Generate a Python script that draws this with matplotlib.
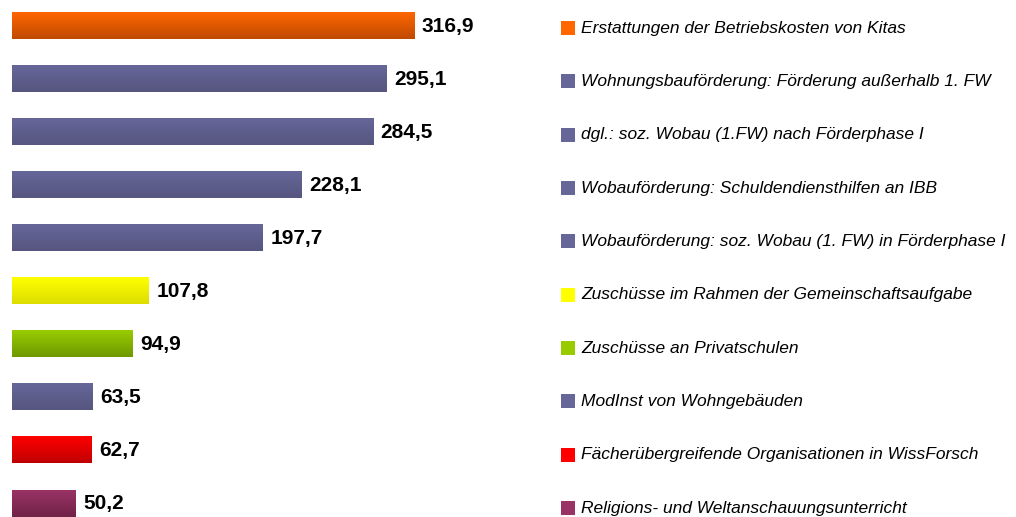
import numpy as np
import matplotlib.pyplot as plt
import matplotlib.transforms as mtransforms
from matplotlib.colors import LinearSegmentedColormap

labels = [
    "Erstattungen der Betriebskosten von Kitas",
    "Wohnungsbauförderung: Förderung außerhalb 1. FW",
    "dgl.: soz. Wobau (1.FW) nach Förderphase I",
    "Wobauförderung: Schuldendiensthilfen an IBB",
    "Wobauförderung: soz. Wobau (1. FW) in Förderphase I",
    "Zuschüsse im Rahmen der Gemeinschaftsaufgabe",
    "Zuschüsse an Privatschulen",
    "ModInst von Wohngebäuden",
    "Fächerübergreifende Organisationen in WissForsch",
    "Religions- und Weltanschauungsunterricht",
]
values = [316.9, 295.1, 284.5, 228.1, 197.7, 107.8, 94.9, 63.5, 62.7, 50.2]
top_colors = ["#FF6600", "#666699", "#666699", "#666699", "#666699",
              "#FFFF00", "#99CC00", "#666699", "#FF0000", "#993366"]
bottom_colors = ["#C04A00", "#565680", "#565680", "#565680", "#565680",
                 "#DDDD00", "#6E9900", "#565680", "#C00000", "#702247"]

W, H = 1016, 517
fig = plt.figure(figsize=(W / 100, H / 100), dpi=100)
# x=0 at px 12, ~1.27 px per unit
ax = fig.add_axes([12 / W, 0, 400 * 1.269 / W, 1])
ax.set_xlim(0, 400)
step = 53.06
ax.set_ylim(9 + (H - 503) / step, -25.5 / step)
ax.axis("off")

y = np.arange(len(values))
bars = ax.barh(y, values, height=27 / step, color=top_colors)

grad = np.linspace(0, 1, 64).reshape(-1, 1)
for b, c1, c2 in zip(bars, top_colors, bottom_colors):
    cmap = LinearSegmentedColormap.from_list("g", [c1, c2])
    x0, y0 = b.get_x(), b.get_y()
    w, h = b.get_width(), b.get_height()
    im = ax.imshow(grad, cmap=cmap, aspect="auto", extent=(x0, x0 + w, y0 + h, y0),
                   interpolation="bilinear", zorder=3)
    im.set_clip_path(b)

for i, v in enumerate(values):
    ax.text(v + 6, i + 0.01, f"{v:.1f}".replace(".", ","), va="center", ha="left",
            fontsize=15, fontweight="bold", family="Liberation Sans")

trans = mtransforms.blended_transform_factory(fig.transFigure, ax.transData)
for i, lab in enumerate(labels):
    yy = i + 0.05 + i * 0.005
    ax.plot([568 / W], [yy], marker="s", markersize=9.8, color=top_colors[i],
            markeredgewidth=0, transform=trans, clip_on=False)
    ax.text(581 / W, yy, lab, transform=trans, va="center", ha="left",
            fontsize=12.5, style="italic", family="Liberation Sans")

fig.savefig("out.png", dpi=100)
